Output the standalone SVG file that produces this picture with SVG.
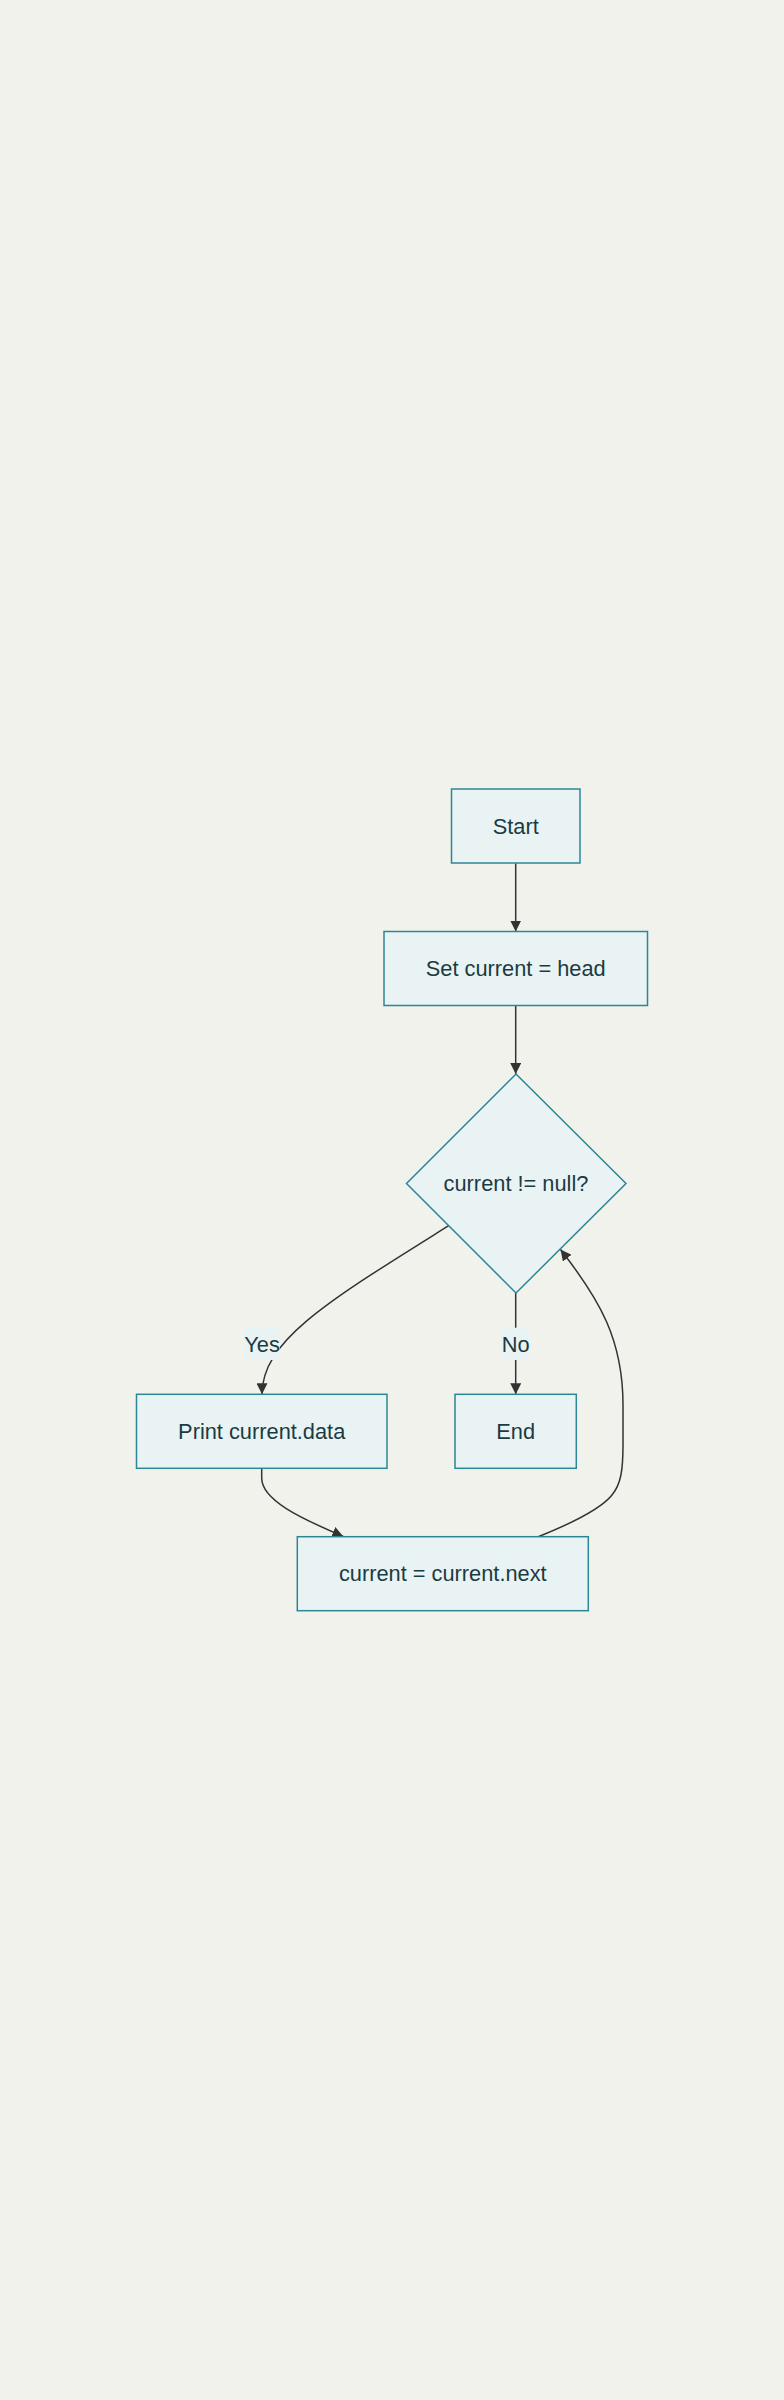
<svg xmlns="http://www.w3.org/2000/svg" width="784" height="2400" viewBox="0 0 784 2400">
<defs>
<style>
.node rect,.node polygon{fill:#e9f3f4;stroke:#2b8796;stroke-width:1.5}
.node text,.lbl text{font-family:"Liberation Sans",Arial,sans-serif;font-size:21.8px;fill:#1b3b42;text-anchor:middle}
.edge{fill:none;stroke:#333;stroke-width:1.5}
.lbl rect{fill:#e9f3f4}
</style>
<marker id="arr" viewBox="0 0 10 10" refX="10" refY="5" markerWidth="11" markerHeight="11" markerUnits="userSpaceOnUse" orient="auto">
<path d="M0,0 L10,5 L0,10 z" fill="#333"/>
</marker>
</defs>
<rect width="784" height="2400" fill="#f2f2ed"/>
<g id="edges">
<path class="edge" d="M515.7,863.3 L515.7,931.5" marker-end="url(#arr)"/>
<path class="edge" d="M515.7,1005.3 L515.7,1074" marker-end="url(#arr)"/>
<path class="edge" d="M448.7,1225.7 C330,1300 262,1340 262,1394.3" marker-end="url(#arr)"/>
<path class="edge" d="M515.7,1292.7 L515.7,1394.3" marker-end="url(#arr)"/>
<path class="edge" d="M261.7,1468.3 L261.7,1478 C261.7,1500 300,1518 343.3,1536.5" marker-end="url(#arr)"/>
<path class="edge" d="M538.3,1536.7 C570,1524 600,1510 612,1495 C621,1484 623,1470 623,1445 L623,1405 C623,1340 600,1300 560.5,1249.5" marker-end="url(#arr)"/>
</g>
<g id="labels">
<g class="lbl" id="label-yes"><rect x="244.3" y="1327.7" width="35.4" height="32.3"/><text x="262" y="1351.6">Yes</text></g>
<g class="lbl" id="label-no"><rect x="502.3" y="1327.7" width="26.7" height="32.3"/><text x="515.7" y="1351.6">No</text></g>
</g>
<g class="node" id="start"><rect x="451.5" y="789" width="128.5" height="74"/><text x="515.7" y="833.6">Start</text></g>
<g class="node" id="set"><rect x="384" y="931.5" width="263.5" height="74"/><text x="515.7" y="976.1">Set current = head</text></g>
<g class="node" id="cond"><polygon points="516,1074 626,1183.5 516,1293 406.5,1183.5"/><text x="516" y="1191.1">current != null?</text></g>
<g class="node" id="print"><rect x="136.5" y="1394.3" width="250.5" height="74"/><text x="261.7" y="1438.9">Print current.data</text></g>
<g class="node" id="end"><rect x="455" y="1394.3" width="121.3" height="74"/><text x="515.7" y="1438.9">End</text></g>
<g class="node" id="next"><rect x="297.3" y="1536.7" width="291" height="74"/><text x="442.8" y="1581.3">current = current.next</text></g>
</svg>
